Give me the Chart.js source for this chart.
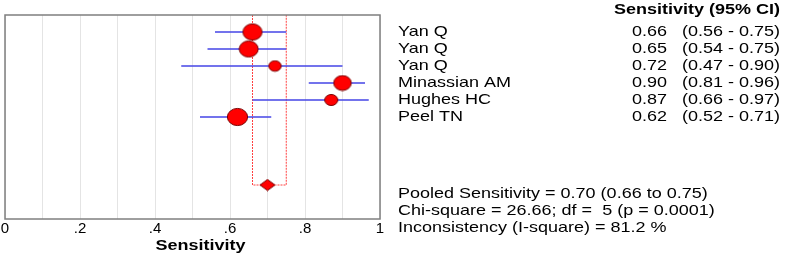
<!DOCTYPE html>
<html>
<head>
<meta charset="utf-8">
<script src="https://cdn.jsdelivr.net/npm/chart.js@4.4.1/dist/chart.umd.min.js"></script>
<style>
html, body { margin: 0; padding: 0; background: #fff; }
</style>
</head>
<body>
<canvas id="forestChart" width="787" height="255"></canvas>
<script>
// study data
const studies = ['Yan Q', 'Yan Q', 'Yan Q', 'Minassian AM', 'Hughes HC', 'Peel TN'];
const sensitivity = [0.66, 0.65, 0.72, 0.90, 0.87, 0.62];
const ciLow = [0.56, 0.54, 0.47, 0.81, 0.66, 0.52];
const ciHigh = [0.75, 0.75, 0.90, 0.96, 0.97, 0.71];
const weights = [20.7, 20.4, 8.7, 17.4, 9.6, 23.2];
const pooledValue = [0.70];
const pooledCI = [0.66, 0.75];
const xTickLabels = ['0', '.2', '.4', '.6', '.8', '1'];
const summaryLines = [
    'Pooled Sensitivity = 0.70 (0.66 to 0.75)',
    'Chi-square = 26.66; df =  5 (p = 0.0001)',
    'Inconsistency (I-square) = 81.2 %'
];

const FONT = "'Liberation Sans', Arial, sans-serif";
const pooledRow = 10;
const STRETCH = 1.2; // original text is a bit wide

// ellipse marker, slightly wider than tall like the original
function ellipseMarker(rx, ry) {
    const c = document.createElement('canvas');
    c.width = Math.ceil(rx * 2 + 2);
    c.height = Math.ceil(ry * 2 + 2);
    const g = c.getContext('2d');
    g.beginPath();
    g.ellipse(c.width / 2, c.height / 2, rx, ry, 0, 0, Math.PI * 2);
    g.fillStyle = '#ff0000';
    g.fill();
    g.lineWidth = 1;
    g.strokeStyle = '#7a0000';
    g.stroke();
    return c;
}

function diamondMarker(w, h) {
    const c = document.createElement('canvas');
    c.width = w + 2;
    c.height = h + 2;
    const g = c.getContext('2d');
    g.beginPath();
    g.moveTo(1, 1 + h / 2);
    g.lineTo(1 + w / 2, 1);
    g.lineTo(1 + w, 1 + h / 2);
    g.lineTo(1 + w / 2, 1 + h);
    g.closePath();
    g.fillStyle = '#ff0000';
    g.fill();
    g.strokeStyle = '#7a0000';
    g.lineWidth = 1;
    g.stroke();
    return c;
}

function wideText(ctx, txt, x, y, align) {
    ctx.save();
    ctx.translate(x, y);
    ctx.scale(STRETCH, 1);
    ctx.textAlign = align;
    ctx.fillText(txt, 0, 0);
    ctx.restore();
}

const markerStyles = weights.map(w => {
    const r = 2.1 * Math.sqrt(w);
    return ellipseMarker(r, r / 1.18);
});

const studyPoints = sensitivity.map((v, i) => ({ x: v, y: i + 1 }));
studyPoints.push({ x: pooledValue[0], y: pooledRow });
const pointStyles = markerStyles.concat([diamondMarker(15, 11)]);

const ciSegments = [];
ciLow.forEach((lo, i) => {
    ciSegments.push({ x: lo, y: i + 1 }, { x: ciHigh[i], y: i + 1 }, { x: null, y: null });
});

const pooledBox = [
    { x: pooledCI[0], y: 0 },
    { x: pooledCI[0], y: pooledRow },
    { x: pooledCI[1], y: pooledRow },
    { x: pooledCI[1], y: 0 }
];

// frame, axis title and right-hand table text
const sidePanel = {
    id: 'sidePanel',
    afterDraw(chart) {
        const ctx = chart.ctx;
        const area = chart.chartArea;
        const ys = chart.scales.y;
        ctx.save();
        ctx.strokeStyle = '#7f7f7f';
        ctx.lineWidth = 1.5;
        ctx.strokeRect(area.left, area.top, area.right - area.left, area.bottom - area.top);

        ctx.fillStyle = '#000';
        ctx.textBaseline = 'middle';
        ctx.font = 'bold 15px ' + FONT;
        wideText(ctx, 'Sensitivity', (area.left + area.right) / 2 + 8, 246, 'center');
        wideText(ctx, 'Sensitivity (95% CI)', 780, ys.getPixelForValue(-0.3), 'right');

        ctx.font = '15px ' + FONT;
        studies.forEach((name, i) => {
            const y = ys.getPixelForValue(i + 1);
            wideText(ctx, name, 398, y, 'left');
            wideText(ctx, sensitivity[i].toFixed(2), 667, y, 'right');
            wideText(ctx, '(' + ciLow[i].toFixed(2) + ' - ' + ciHigh[i].toFixed(2) + ')', 682, y, 'left');
        });
        summaryLines.forEach((txt, k) => {
            wideText(ctx, txt, 398, ys.getPixelForValue(pooledRow + 0.5 + k), 'left');
        });
        ctx.restore();
    }
};

const ctx = document.getElementById('forestChart').getContext('2d');
const forestChart = new Chart(ctx, {
    type: 'scatter',
    data: {
        datasets: [
            {
                data: studyPoints,
                pointStyle: pointStyles,
                pointRadius: 8,
                showLine: false
            },
            {
                data: ciSegments,
                showLine: true,
                spanGaps: false,
                borderColor: '#4646e6',
                borderWidth: 1.4,
                pointRadius: 0
            },
            {
                data: pooledBox,
                showLine: true,
                borderColor: '#ff4040',
                borderWidth: 1,
                borderDash: [2, 1],
                pointRadius: 0
            }
        ]
    },
    plugins: [sidePanel],
    options: {
        responsive: false,
        animation: false,
        devicePixelRatio: 1,
        layout: { autoPadding: false, padding: { left: 5, right: 407, top: 15, bottom: 0 } },
        plugins: {
            legend: { display: false },
            tooltip: { enabled: false }
        },
        scales: {
            x: {
                type: 'linear',
                min: 0,
                max: 1,
                ticks: {
                    stepSize: 0.1,
                    autoSkip: false,
                    maxRotation: 0,
                    padding: 1,
                    color: '#000',
                    font: { family: FONT, size: 15 },
                    callback: function(value) {
                        const r = Math.round(value * 10);
                        return r % 2 === 0 ? xTickLabels[r / 2] : '';
                    }
                },
                grid: { color: '#e4e4e4', lineWidth: 1, drawTicks: false },
                border: { display: false },
                afterFit: function(scale) {
                    scale.height = 36;
                    scale.paddingLeft = 0;
                    scale.paddingRight = 0;
                }
            },
            y: {
                type: 'linear',
                display: false,
                min: 0,
                max: 12,
                reverse: true
            }
        }
    }
});
</script>
</body>
</html>
